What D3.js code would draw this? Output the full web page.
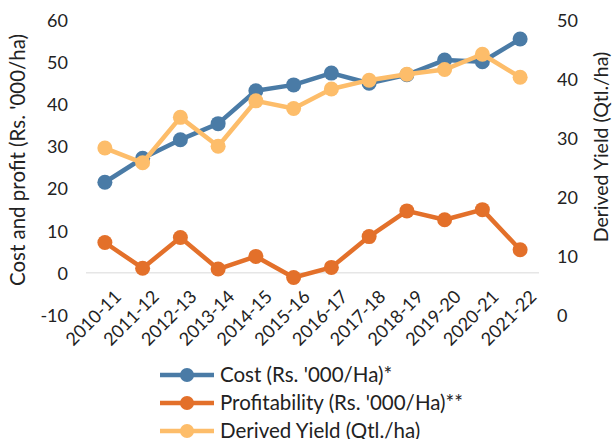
<!DOCTYPE html>
<html>
<head>
<meta charset="utf-8">
<script src="https://cdn.jsdelivr.net/npm/d3@7"></script>
<style>
  body { margin: 0; background: #fff; }
  svg text { font-family: Lato, "Open Sans", sans-serif; fill: #222; }
</style>
</head>
<body>
<div id="chart"></div>
<script>
var years = ['2010-11','2011-12','2012-13','2013-14','2014-15','2015-16',
             '2016-17','2017-18','2018-19','2019-20','2020-21','2021-22'];
var cost = [21.5, 27.2, 31.6, 35.4, 43.2, 44.6, 47.4, 45.0, 47.0, 50.5, 50.1, 55.5];
var profit = [7.2, 1.1, 8.4, 0.9, 3.9, -1.1, 1.3, 8.6, 14.7, 12.6, 15.0, 5.5];
var yieldQ = [28.3, 25.8, 33.5, 28.6, 36.3, 35.0, 38.3, 39.8, 40.8, 41.6, 44.2, 40.3];
var leftTicks = [-10, 0, 10, 20, 30, 40, 50, 60];
var rightTicks = [0, 10, 20, 30, 40, 50];

var W = 615, H = 439;
var plotL = 86, plotR = 539, plotT = 20, plotB = 315;

var svg = d3.select('#chart').append('svg')
    .attr('width', W).attr('height', H);

var x = d3.scalePoint().domain(years).range([plotL, plotR]).padding(0.5);
var yL = d3.scaleLinear().domain([-10, 60]).range([plotB, plotT]);
var yR = d3.scaleLinear().domain([0, 50]).range([plotB, plotT]);

// zero line
svg.append('line')
    .attr('x1', plotL).attr('x2', plotR)
    .attr('y1', yL(0)).attr('y2', yL(0))
    .attr('stroke', '#e6e6e6').attr('stroke-width', 1.5);

// left axis (plain hyphen for negatives, like the original)
var gl = svg.append('g').attr('transform', 'translate(' + (plotL - 16) + ',0)')
    .call(d3.axisLeft(yL).tickValues(leftTicks).tickSize(0).tickPadding(2)
      .tickFormat(function(d) { return String(d); }));
gl.select('.domain').remove();
gl.selectAll('text').style('font-size', '18px').attr('dy', '0.35em');

// right axis
var gr = svg.append('g').attr('transform', 'translate(' + (plotR + 16) + ',0)')
    .call(d3.axisRight(yR).tickValues(rightTicks).tickSize(0).tickPadding(2));
gr.select('.domain').remove();
gr.selectAll('text').style('font-size', '18px').attr('dy', '0.35em');

// x axis labels
var gx = svg.append('g').attr('transform', 'translate(0,' + (yL(0) + 6) + ')')
    .call(d3.axisBottom(x).tickSize(0).tickPadding(0));
gx.select('.domain').remove();
gx.selectAll('text')
    .style('font-size', '18px')
    .style('text-anchor', 'end')
    .attr('dy', '0.7em')
    .attr('transform', 'translate(8,10) rotate(-45)');

// axis titles
svg.append('text')
    .attr('transform', 'translate(25,160) rotate(-90)')
    .attr('text-anchor', 'middle')
    .style('font-size', '20.5px')
    .text("Cost and profit (Rs. '000/ha)");
svg.append('text')
    .attr('transform', 'translate(608,147) rotate(-90)')
    .attr('text-anchor', 'middle')
    .style('font-size', '19.5px')
    .text('Derived Yield (Qtl./ha)');

var series = [
  { name: "Cost (Rs. '000/Ha)*", values: cost, scale: yL, color: '#4a7ba6' },
  { name: "Profitability (Rs. '000/Ha)**", values: profit, scale: yL, color: '#e3702a' },
  { name: 'Derived Yield (Qtl./ha)', values: yieldQ, scale: yR, color: '#fdbd6a' }
];

series.forEach(function(s, k) {
  var line = d3.line()
      .x(function(d, i) { return x(years[i]); })
      .y(function(d) { return s.scale(d); });
  svg.append('path')
      .datum(s.values)
      .attr('d', line)
      .attr('fill', 'none')
      .attr('stroke', s.color)
      .attr('stroke-width', 4.5)
      .attr('stroke-linejoin', 'round');
  svg.selectAll('.pt' + k)
      .data(s.values)
      .enter().append('circle')
      .attr('class', 'pt' + k)
      .attr('cx', function(d, i) { return x(years[i]); })
      .attr('cy', function(d) { return s.scale(d); })
      .attr('r', 7.5)
      .attr('fill', s.color);
});

// legend
var lg = svg.append('g').attr('transform', 'translate(160,375)');
series.forEach(function(s, i) {
  var g = lg.append('g').attr('transform', 'translate(0,' + (i * 28) + ')');
  g.append('line').attr('x1', 0).attr('x2', 54)
      .attr('stroke', s.color).attr('stroke-width', 4.5);
  g.append('circle').attr('cx', 27).attr('r', 7).attr('fill', s.color);
  g.append('text').attr('x', 60).attr('dy', '0.35em')
      .style('font-size', '20.5px').text(s.name);
});
</script>
</body>
</html>
